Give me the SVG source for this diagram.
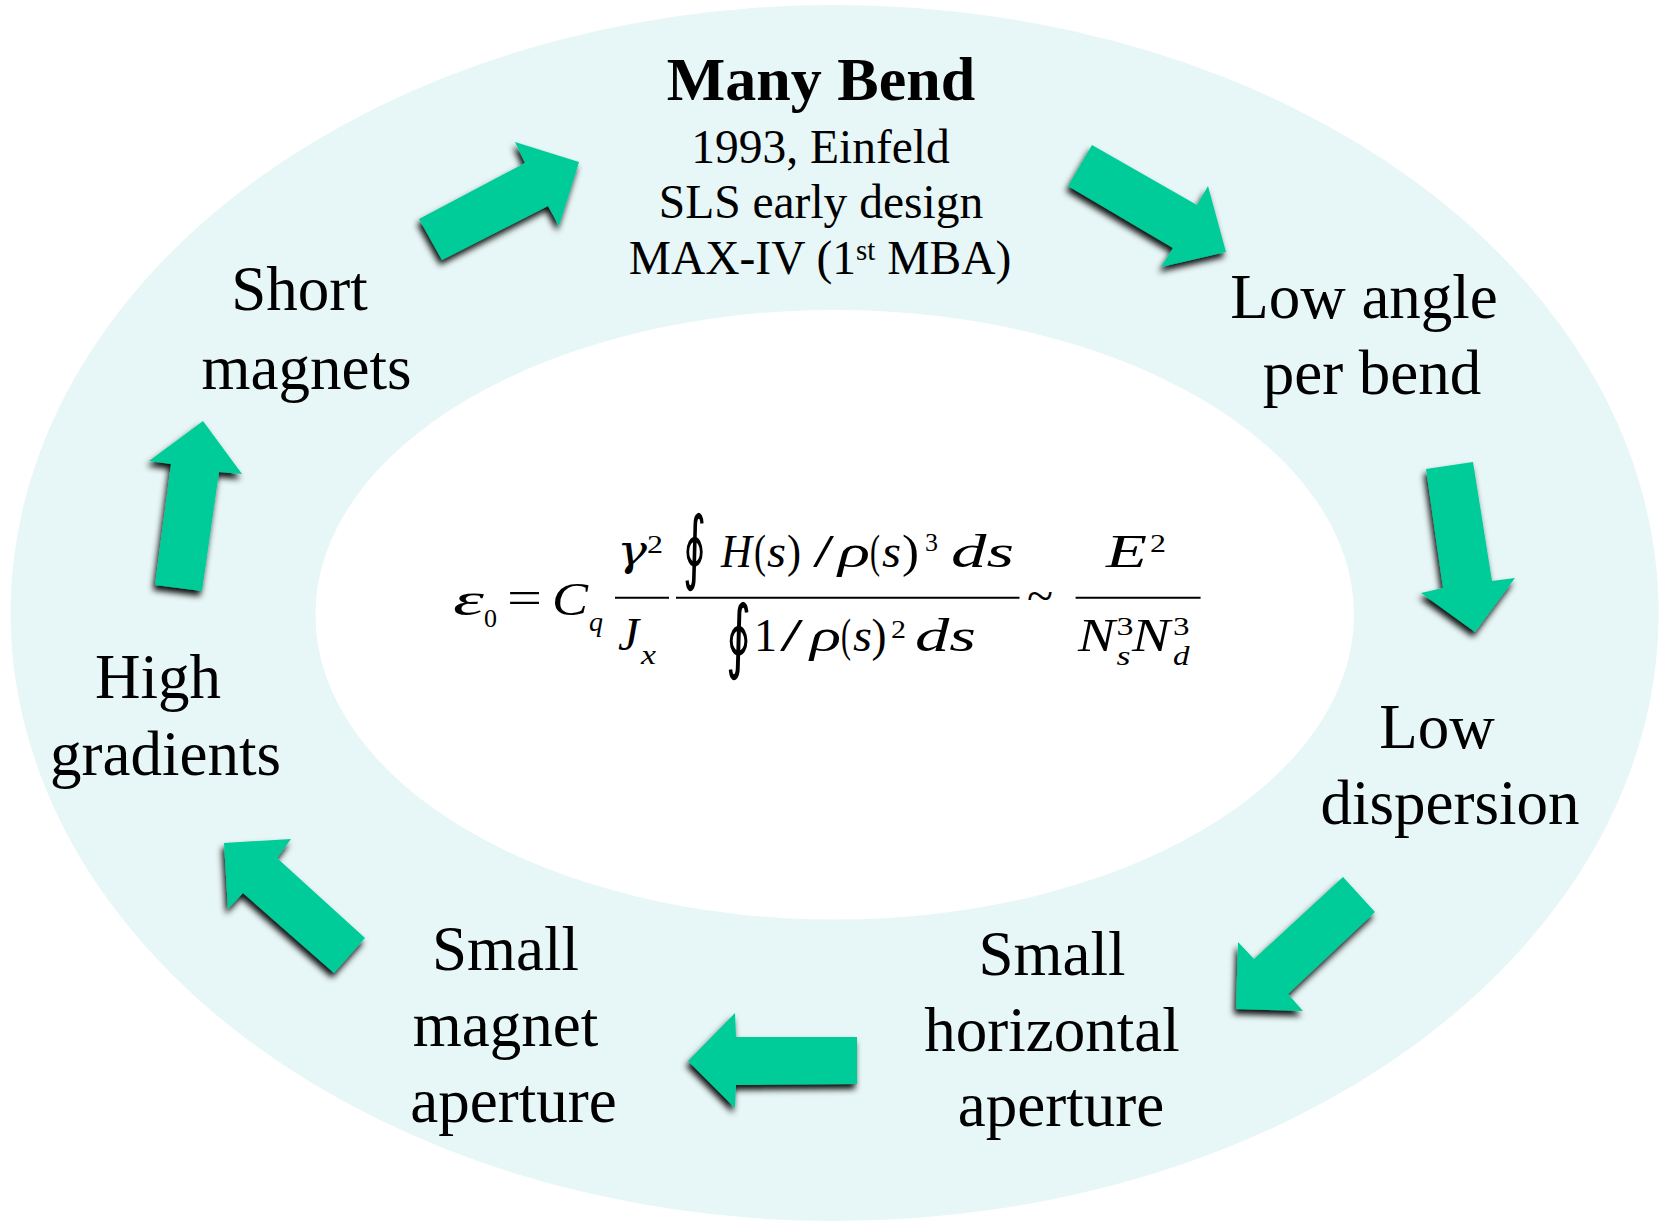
<svg xmlns="http://www.w3.org/2000/svg" width="1665" height="1222" viewBox="0 0 1665 1222">
<style>
.lbl{font-family:"Liberation Serif","Times New Roman",serif;font-size:63px;fill:#000;text-anchor:middle}
.top{font-family:"Liberation Serif","Times New Roman",serif;font-size:47.5px;fill:#000;text-anchor:middle}
.ttl{font-family:"Liberation Serif","Times New Roman",serif;font-size:62px;font-weight:bold;fill:#000;text-anchor:middle}
.mi{font-family:"Liberation Serif","Times New Roman",serif;font-size:47px;font-style:italic;fill:#000}
.mg{font-family:"DejaVu Serif",serif;font-size:42px;font-style:italic;fill:#000}
.mu{font-family:"Liberation Serif","Times New Roman",serif;font-size:47px;fill:#000}
.si{font-family:"Liberation Serif","Times New Roman",serif;font-size:28px;font-style:italic;fill:#000}
.su{font-family:"Liberation Serif","Times New Roman",serif;font-size:26px;fill:#000}
.oi{font-family:"DejaVu Serif",serif;font-size:81px;fill:#000}
.bar{stroke:#000;stroke-width:2}
.arr{fill:#00CC99;filter:url(#sh)}
</style>
<defs>
<filter id="sh" x="-30%" y="-30%" width="160%" height="160%">
<feDropShadow dx="-2" dy="5" stdDeviation="3" flood-color="#000" flood-opacity="0.95"/>
</filter>
</defs>
<rect width="1665" height="1222" fill="#fff"/>
<g id="ring">
<ellipse cx="834.6" cy="613" rx="824" ry="608" fill="#E7F6F6"/>
<ellipse cx="834.7" cy="614.8" rx="519.3" ry="304.8" fill="#fff"/>
</g>
<g id="connectors">
<polygon class="arr" points="419,219 525,163 515,142 579,162 559,226 548,206 442,260"/>
<polygon class="arr" points="1092,145 1197,205 1208,186 1226,252 1161,267 1173,248 1068,186"/>
<polygon class="arr" points="1426,469 1473,462 1492,581 1515,578 1475,632 1421,593 1443,588"/>
<polygon class="arr" points="1343,877 1375,912 1288,994 1303,1011 1236,1009 1238,942 1254,959"/>
<polygon class="arr" points="857,1037 857,1084 736,1085 735,1108 688,1061 735,1013 736,1037"/>
<polygon class="arr" points="334,973 365,938 277,858 291,839 224,843 228,909 243,893"/>
<polygon class="arr" points="155,585 202,591 219,472 242,474 203,421 149,461 171,464"/>
</g>
<g id="node-many-bend">
<text class="ttl" x="821" y="100">Many Bend</text>
<text class="top" x="820.5" y="162.5">1993, Einfeld</text>
<text class="top" x="821" y="218">SLS early design</text>
<text class="top" x="820" y="274">MAX-IV (1<tspan font-size="29" dy="-14">st</tspan><tspan dy="14"> MBA)</tspan></text>
</g>
<g id="node-low-angle">
<text class="lbl" x="1364" y="318">Low angle</text>
<text class="lbl" x="1372" y="394">per bend</text>
</g>
<g id="node-low-dispersion">
<text class="lbl" x="1437" y="748">Low</text>
<text class="lbl" x="1450" y="824">dispersion</text>
</g>
<g id="node-small-horizontal-aperture">
<text class="lbl" x="1052" y="975">Small</text>
<text class="lbl" x="1052" y="1051">horizontal</text>
<text class="lbl" x="1061" y="1126">aperture</text>
</g>
<g id="node-small-magnet-aperture">
<text class="lbl" x="505.5" y="969.5">Small</text>
<text class="lbl" x="505.5" y="1046">magnet</text>
<text class="lbl" x="513.5" y="1122">aperture</text>
</g>
<g id="node-high-gradients">
<text class="lbl" x="158" y="697.5">High</text>
<text class="lbl" x="165.5" y="775">gradients</text>
</g>
<g id="node-short-magnets">
<text class="lbl" x="299.5" y="310">Short</text>
<text class="lbl" x="306.5" y="388.5">magnets</text>
</g>
<g id="formula">
<text class="mi" x="453" y="615" textLength="31" lengthAdjust="spacingAndGlyphs">ε</text>
<text class="su" x="484" y="627" font-size="28" textLength="13" lengthAdjust="spacingAndGlyphs">0</text>
<text class="mu" x="507" y="613" textLength="35" lengthAdjust="spacingAndGlyphs">=</text>
<text class="mi" x="552" y="615" textLength="36" lengthAdjust="spacingAndGlyphs">C</text>
<text class="si" x="589" y="631" textLength="14" lengthAdjust="spacingAndGlyphs">q</text>
<text class="mg" x="617" y="565" textLength="30" lengthAdjust="spacingAndGlyphs">γ</text>
<text class="su" x="647" y="553" textLength="16" lengthAdjust="spacingAndGlyphs">2</text>
<line class="bar" x1="615" y1="597.7" x2="669" y2="597.7"/>
<text class="mi" x="618" y="650" textLength="21" lengthAdjust="spacingAndGlyphs">J</text>
<text class="si" x="641" y="664" textLength="15" lengthAdjust="spacingAndGlyphs">x</text>
<line class="bar" x1="676" y1="597.7" x2="1019.5" y2="597.7"/>
<text class="oi" x="683" y="574" textLength="23" lengthAdjust="spacingAndGlyphs">∮</text>
<text class="mi" x="721" y="567" textLength="31" lengthAdjust="spacingAndGlyphs">H</text>
<text class="mu" x="754" y="567" textLength="12" lengthAdjust="spacingAndGlyphs">(</text>
<text class="mi" x="767" y="567" textLength="19" lengthAdjust="spacingAndGlyphs">s</text>
<text class="mu" x="787" y="567" textLength="14" lengthAdjust="spacingAndGlyphs">)</text>
<text class="mu" x="813" y="567" textLength="21" lengthAdjust="spacingAndGlyphs">/</text>
<text class="mi" x="838" y="567" textLength="32" lengthAdjust="spacingAndGlyphs">ρ</text>
<text class="mu" x="870" y="567" textLength="10" lengthAdjust="spacingAndGlyphs">(</text>
<text class="mi" x="882" y="567" textLength="19" lengthAdjust="spacingAndGlyphs">s</text>
<text class="mu" x="902" y="567" textLength="17" lengthAdjust="spacingAndGlyphs">)</text>
<text class="su" x="925" y="551" textLength="13" lengthAdjust="spacingAndGlyphs">3</text>
<text class="mi" x="951" y="567" textLength="63" lengthAdjust="spacingAndGlyphs">ds</text>
<text class="oi" x="726" y="663" textLength="25" lengthAdjust="spacingAndGlyphs">∮</text>
<text class="mu" x="754" y="651" textLength="23" lengthAdjust="spacingAndGlyphs">1</text>
<text class="mu" x="780" y="651" textLength="23" lengthAdjust="spacingAndGlyphs">/</text>
<text class="mi" x="810" y="651" textLength="31" lengthAdjust="spacingAndGlyphs">ρ</text>
<text class="mu" x="841" y="651" textLength="10" lengthAdjust="spacingAndGlyphs">(</text>
<text class="mi" x="853" y="651" textLength="19" lengthAdjust="spacingAndGlyphs">s</text>
<text class="mu" x="871.5" y="651" textLength="15" lengthAdjust="spacingAndGlyphs">)</text>
<text class="su" x="891" y="638" textLength="15" lengthAdjust="spacingAndGlyphs">2</text>
<text class="mi" x="915" y="651" textLength="61" lengthAdjust="spacingAndGlyphs">ds</text>
<text class="mu" x="1027" y="611" textLength="26" lengthAdjust="spacingAndGlyphs">~</text>
<text class="mi" x="1106" y="567" textLength="41" lengthAdjust="spacingAndGlyphs">E</text>
<text class="su" x="1150" y="552" textLength="16" lengthAdjust="spacingAndGlyphs">2</text>
<line class="bar" x1="1075.6" y1="597.7" x2="1200.6" y2="597.7"/>
<text class="mi" x="1078" y="651" textLength="37" lengthAdjust="spacingAndGlyphs">N</text>
<text class="su" x="1116.5" y="635" textLength="17" lengthAdjust="spacingAndGlyphs">3</text>
<text class="si" x="1116.5" y="665" textLength="14" lengthAdjust="spacingAndGlyphs">s</text>
<text class="mi" x="1132" y="651" textLength="38" lengthAdjust="spacingAndGlyphs">N</text>
<text class="su" x="1173" y="635" textLength="16.5" lengthAdjust="spacingAndGlyphs">3</text>
<text class="si" x="1173" y="665" textLength="16.5" lengthAdjust="spacingAndGlyphs">d</text>
</g>
</svg>
